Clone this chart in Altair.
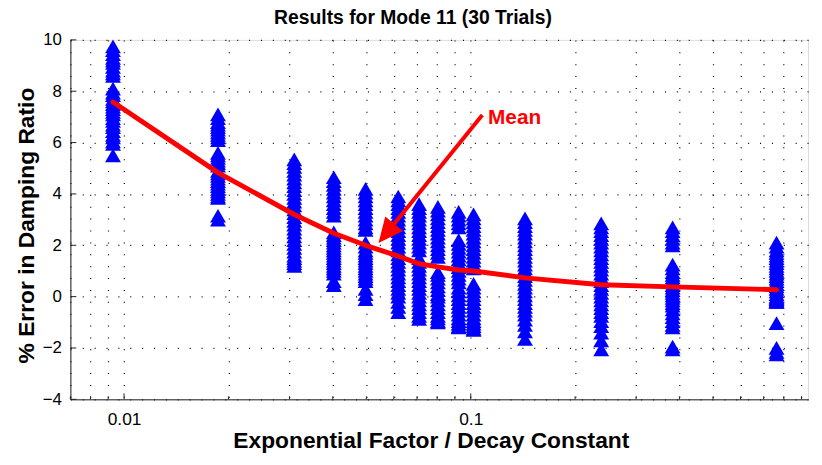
import altair as alt
import pandas as pd

# ---------------- data ----------------
x_positions = [0.00929, 0.01866, 0.03097, 0.04027, 0.04973, 0.06180, 0.07096,
               0.08041, 0.09230, 0.1019, 0.1434, 0.2379, 0.3823, 0.7625]

trial_errors = [
    [9.75, 9.6, 9.45, 9.3, 9.2, 9.1, 8.95, 8.8, 8.7, 8.6, 8.1, 7.95, 7.85, 7.7, 7.6,
     7.5, 7.4, 7.3, 7.2, 7.1, 6.95, 6.85, 6.7, 6.6, 6.45, 6.3, 6.2, 6.05, 5.95, 5.5],
    [7.1, 6.95, 6.8, 6.7, 6.6, 6.5, 6.4, 6.3, 6.2, 6.1, 5.6, 5.5, 5.4, 5.3, 5.2,
     5.1, 4.9, 4.8, 4.7, 4.6, 4.5, 4.4, 4.3, 4.2, 4.1, 4.0, 3.9, 3.85, 3.15, 3.0],
    [5.35, 5.2, 5.05, 4.9, 4.75, 4.6, 4.45, 4.3, 4.15, 4.0, 3.85, 3.7, 3.55, 3.4, 3.25,
     3.1, 2.95, 2.8, 2.65, 2.5, 2.35, 2.2, 2.05, 1.9, 1.75, 1.6, 1.5, 1.4, 1.3, 1.2],
    [4.65, 4.5, 4.35, 4.2, 4.05, 3.9, 3.75, 3.6, 3.45, 3.3, 3.15, 2.5, 2.4, 2.3, 2.2,
     2.1, 2.0, 1.9, 1.8, 1.7, 1.6, 1.5, 1.4, 1.3, 1.2, 1.1, 1.0, 0.9, 0.6, 0.45],
    [4.2, 4.05, 3.9, 3.75, 3.6, 3.45, 3.3, 3.15, 3.0, 2.85, 2.7, 2.6, 2.1, 1.95, 1.8,
     1.7, 1.6, 1.5, 1.4, 1.3, 1.2, 1.1, 1.0, 0.9, 0.8, 0.7, 0.6, 0.3, 0.1, -0.1],
    [3.9, 3.75, 3.6, 3.45, 3.3, 3.15, 3.0, 2.85, 2.7, 2.55, 2.4, 2.25, 2.1, 1.95, 1.8,
     1.65, 1.5, 1.35, 1.2, 1.05, 0.9, 0.75, 0.6, 0.45, 0.3, 0.15, 0.0, -0.2, -0.4, -0.6],
    [3.6, 3.45, 3.3, 3.15, 3.0, 2.85, 2.7, 2.55, 2.4, 2.25, 2.1, 1.95, 1.8, 1.5, 1.35,
     1.2, 1.05, 0.9, 0.75, 0.6, 0.45, 0.3, 0.15, 0.0, -0.15, -0.3, -0.45, -0.6, -0.75, -0.87],
    [3.5, 3.35, 3.2, 3.05, 2.9, 2.75, 2.6, 2.45, 2.3, 2.15, 2.0, 1.85, 1.7, 1.55, 0.95,
     0.85, 0.7, 0.55, 0.4, 0.25, 0.1, 0.0, -0.15, -0.3, -0.45, -0.6, -0.75, -0.85, -0.95, -1.0],
    [3.3, 3.15, 3.0, 2.85, 2.7, 2.2, 2.05, 1.9, 1.75, 1.6, 1.45, 1.3, 1.15, 1.0, 0.85,
     0.7, 0.55, 0.35, 0.2, 0.05, -0.1, -0.25, -0.4, -0.55, -0.7, -0.85, -0.95, -1.05, -1.15, -1.2],
    [3.2, 3.05, 2.9, 2.75, 2.6, 2.45, 2.3, 2.15, 2.0, 1.85, 1.7, 1.55, 1.4, 1.25, 1.1,
     0.5, 0.35, 0.2, 0.05, -0.1, -0.25, -0.4, -0.55, -0.7, -0.85, -0.95, -1.05, -1.15, -1.25, -1.3],
    [3.05, 2.9, 2.75, 2.6, 2.45, 2.3, 2.15, 2.0, 1.85, 1.7, 1.55, 1.4, 1.25, 1.1, 0.95,
     0.8, 0.65, 0.5, 0.35, 0.2, 0.05, -0.1, -0.25, -0.4, -0.55, -0.7, -0.9, -1.1, -1.35, -1.65],
    [2.85, 2.7, 2.55, 2.4, 2.25, 2.1, 1.95, 1.8, 1.65, 1.5, 1.35, 1.2, 1.05, 0.9, 0.75,
     0.6, 0.45, 0.3, 0.15, 0.0, -0.15, -0.3, -0.45, -0.6, -0.75, -0.95, -1.15, -1.4, -1.7, -2.05],
    [2.7, 2.55, 2.4, 2.25, 2.1, 2.0, 1.25, 1.1, 0.95, 0.85, 0.75, 0.65, 0.55, 0.45, 0.35,
     0.25, 0.15, 0.05, -0.05, -0.15, -0.25, -0.35, -0.5, -0.65, -0.8, -0.95, -1.1, -1.2, -1.95, -2.05],
    [2.1, 1.95, 1.8, 1.7, 1.6, 1.5, 1.4, 1.3, 1.2, 1.1, 1.0, 0.9, 0.8, 0.7, 0.6,
     0.5, 0.4, 0.3, 0.2, 0.1, 0.0, -0.05, -0.1, -0.15, -0.2, -0.2, -1.03, -2.0, -2.15, -2.25],
]

mean_error = [7.58, 4.83, 3.2, 2.47, 2.0, 1.58, 1.28, 1.16, 1.04, 1.0, 0.73, 0.46, 0.38, 0.27]

x_grid_values = [0.007, 0.008, 0.009, 0.01, 0.02, 0.03, 0.04, 0.05, 0.06, 0.07, 0.08, 0.09,
                 0.1, 0.2, 0.3, 0.4, 0.5, 0.6, 0.7, 0.8, 0.9]
x_major_ticks = [0.01, 0.1]
y_tick_values = [-4, -2, 0, 2, 4, 6, 8, 10]

chart_title = "Results for Mode 11 (30 Trials)"
arrow_start = (0.108, 7.07)
arrow_shaft_end = (0.0577, 2.54)
arrow_tip = (0.0542, 2.09)
mean_label = (0.110, 6.97, "Mean")

# ---------------- tables ----------------
pts = pd.DataFrame(
    [{"x": xv, "y": yv} for xv, col in zip(x_positions, trial_errors) for yv in col]
)
mean_df = pd.DataFrame({"x": x_positions, "y": mean_error})
minor_df = pd.DataFrame({"x": [v for v in x_grid_values if v not in x_major_ticks]})
major_df = pd.DataFrame({"x": x_major_ticks})
ytick_df = pd.DataFrame({"y": y_tick_values})
shaft_df = pd.DataFrame({"x": [arrow_start[0]], "y": [arrow_start[1]],
                         "x2": [arrow_shaft_end[0]], "y2": [arrow_shaft_end[1]]})
tip_df = pd.DataFrame({"x": [arrow_tip[0]], "y": [arrow_tip[1]]})
label_df = pd.DataFrame({"x": [mean_label[0]], "y": [mean_label[1]], "t": [mean_label[2]]})
title_df = pd.DataFrame({"t": [chart_title]})

FONT = "Liberation Sans"
W, H = 745, 363

xscale = alt.Scale(type="log", domain=[0.007, 0.94], nice=False)
yscale = alt.Scale(domain=[-4, 10], nice=False, zero=False)

xaxis = alt.Axis(
    values=x_grid_values,
    labelExpr="datum.value == 0.01 ? '0.01' : (datum.value == 0.1 ? '0.1' : '')",
    labelOverlap=False,
    labelFontSize=17.5, labelFont=FONT, labelColor="#000", labelPadding=11,
    ticks=False, tickSize=0,
    grid=True, gridDash=[1, 11], gridColor="#000", gridWidth=1.2, gridOpacity=1,
    domainColor="#222", domainWidth=1,
    title="Exponential Factor / Decay Constant",
    titleFontSize=23, titleFont=FONT, titleFontWeight="bold", titleColor="#000",
    titleX=364, titleY=49, titleBaseline="alphabetic", titleAlign="center",
)
yaxis = alt.Axis(
    values=y_tick_values,
    labelFontSize=17, labelFont=FONT, labelColor="#000", labelPadding=9,
    ticks=False, tickSize=0,
    grid=True, gridDash=[1, 11], gridColor="#000", gridWidth=1.2, gridOpacity=1,
    domainColor="#222", domainWidth=1,
    title="% Error in Damping Ratio",
    titleFontSize=23, titleFont=FONT, titleFontWeight="bold", titleColor="#000",
    titleX=-44, titleY=187, titleBaseline="middle", titleAlign="center",
)

X = alt.X("x:Q", scale=xscale, axis=xaxis)
Y = alt.Y("y:Q", scale=yscale, axis=yaxis)

points = alt.Chart(pts).mark_point(
    shape="triangle-up", filled=True, size=256, color="#0000FF", opacity=1
).encode(x=X, y=Y)

mean_line = alt.Chart(mean_df).mark_line(
    color="#FF0000", strokeWidth=5, strokeCap="round", strokeJoin="round"
).encode(x=X, y=Y)

minor_ticks = alt.Chart(minor_df).mark_rule(color="#222", strokeWidth=1).encode(
    x=X, y=alt.value(H), y2=alt.value(H - 3)
)
major_ticks = alt.Chart(major_df).mark_rule(color="#222", strokeWidth=1).encode(
    x=X, y=alt.value(H), y2=alt.value(H - 6)
)
y_ticks = alt.Chart(ytick_df).mark_rule(color="#222", strokeWidth=1).encode(
    y=Y, x=alt.value(0), x2=alt.value(6)
)

shaft = alt.Chart(shaft_df).mark_rule(color="#FF0000", strokeWidth=4).encode(
    x=X, y=Y, x2="x2:Q", y2="y2:Q"
)
head = alt.Chart(tip_df).mark_point(
    shape="M0,0L0.69,1.5L-0.69,1.5Z", filled=True, size=1115, angle=219,
    color="#FF0000", opacity=1
).encode(x=X, y=Y)
label = alt.Chart(label_df).mark_text(
    align="left", baseline="middle", dx=3, fontSize=21, fontWeight="bold",
    font=FONT, color="#FF0000"
).encode(x=X, y=Y, text="t:N")

title_text = alt.Chart(title_df).mark_text(
    align="center", baseline="alphabetic", fontSize=19.5, fontWeight="bold",
    font=FONT, color="#000"
).encode(x=alt.value(346), y=alt.value(-16), text="t:N")

chart = alt.layer(
    minor_ticks, major_ticks, y_ticks, points, mean_line, shaft, head, label, title_text
).properties(
    width=W, height=H,
    padding={"left": 63, "top": 30, "right": 6, "bottom": 53},
    autosize=alt.AutoSizeParams(type="none"),
).configure_view(stroke=None).configure(background="white")

chart.save("out.html", embed_options={"renderer": "svg", "actions": False})
